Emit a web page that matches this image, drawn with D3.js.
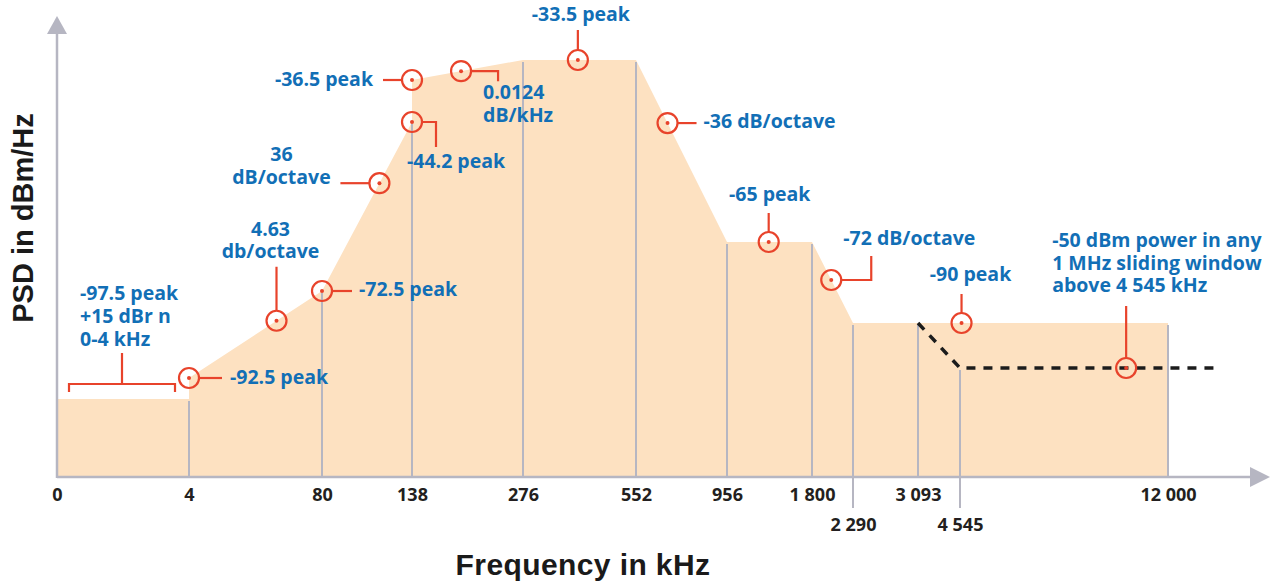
<!DOCTYPE html>
<html>
<head>
<meta charset="utf-8">
<script src="https://cdn.jsdelivr.net/npm/d3@7"></script>
<style>
  html, body { margin: 0; padding: 0; background: #fff; }
  svg { display: block; }
  .callout text { font-family: "Open Sans", sans-serif; font-weight: 700; font-size: 19.5px; fill: #126fb6; }
  .ticks text { font-family: "Open Sans", sans-serif; font-weight: 700; font-size: 18px; fill: #231f20; }
  .title { font-family: "Liberation Sans", Arial, sans-serif; font-weight: 700; fill: #1a1a1a; }
</style>
</head>
<body>
<div id="chart"></div>
<script>
// ---- data ----
const freqTicks = [0, 4, 80, 138, 276, 552, 956, 1800, 2290, 3093, 4545, 12000];
const tickLabels = ["0", "4", "80", "138", "276", "552", "956", "1 800", "2 290", "3 093", "4 545", "12 000"];
const lowRowTicks = [2290, 4545];

// PSD mask outline, dBm/Hz
const maskFreq = [0, 4, 4, 80, 138, 138, 276, 552, 956, 1800, 2290, 12000];
const maskPsd = [-97.5, -97.5, -92.5, -72.5, -44.2, -36.5, -33.5, -33.5, -65, -65, -90, -90];

// grey dividers and the level they start from
const gridFreq = [4, 80, 138, 276, 552, 956, 1800, 2290, 3093, 4545, 12000];
const gridTop = [-97.5, -72.5, -44.2, -33.5, -33.5, -65, -65, -90, -90, -92, -90];

// -50 dBm / MHz limit (drawn schematically)
const limitFreq = [3093, 4545, 13400];
const limitPsd = [-90, -92, -92];

// bracket over 0-4 kHz
const bracketFreq = [0, 4];
const bracketPsd = -97.5;
const bracketText = ["-97.5 peak", "+15 dBr n", "0-4 kHz"];

const calloutText = [
  ["-92.5 peak"],
  ["4.63", "db/octave"],
  ["-72.5 peak"],
  ["36", "dB/octave"],
  ["-44.2 peak"],
  ["-36.5 peak"],
  ["0.0124", "dB/kHz"],
  ["-33.5 peak"],
  ["-36 dB/octave"],
  ["-65 peak"],
  ["-72 dB/octave"],
  ["-90 peak"],
  ["-50 dBm power in any", "1 MHz sliding window", "above 4 545 kHz"]
];
const calloutFreq = [4, 54, 80, 117, 138, 138, 199, 410, 692, 1370, 2030, 4600, 10500];
// null = sits on the mask outline, "limit" = sits on the limit line
const calloutPsd = [-92.5, null, -72.5, null, -44.2, -36.5, null, null, null, null, null, -90, "limit"];

// ---- layout ----
const width = 1285, height = 583;
const baseY = 477, topY = 16;
const axisX0 = 57, axisX1 = 1270;
// schematic (non-uniform) frequency axis
const xDomain = freqTicks.concat([15000]);
const xRange = [57, 189, 322, 412, 523, 636, 727, 812, 853, 918, 960, 1168, 1270];
// schematic level axis
const yDomain = [-110, -97.5, -92.5, -92, -90, -72.5, -65, -44.2, -36.5, -33.5, -20];
const yRange = [477, 399, 378, 368, 323, 291, 242, 122, 80, 60, 16];

// leader polylines (offsets from the circle centre) and text placement
const calloutLayout = [
  { leader: [[10, 0], [33, 0]], dx: 41, dy: [6], anchor: "start" },
  { leader: [[0, -10], [0, -54]], dx: -6, dy: [-85, -63], anchor: "middle" },
  { leader: [[10, 0], [30, 0]], dx: 37, dy: [5], anchor: "start" },
  { leader: [[-10, 0], [-39, 0]], dx: -98, dy: [-22, 1], anchor: "middle" },
  { leader: [[10, 0], [24, 0], [24, 25]], dx: -5, dy: [46], anchor: "start" },
  { leader: [[-10, 0], [-29, 0]], dx: -39, dy: [6], anchor: "end" },
  { leader: [[10, 0], [37, 0], [37, 10]], dx: 22, dy: [28, 51], anchor: "start" },
  { leader: [[0, -10], [0, -30]], dx: 3, dy: [-39], anchor: "middle" },
  { leader: [[10, 0], [29, 0]], dx: 36, dy: [5], anchor: "start" },
  { leader: [[0, -10], [0, -29]], dx: 1, dy: [-41], anchor: "middle" },
  { leader: [[10, 0], [40, 0], [40, -24]], dx: 12, dy: [-35], anchor: "start" },
  { leader: [[0, -10], [0, -29]], dx: 9, dy: [-42], anchor: "middle" },
  { leader: [[0, -10], [0, -62]], dx: -74, dy: [-121, -98, -76], anchor: "start" }
];

const red = "#e8432b", grey = "#b6b6c2", fill = "#fde1c1";

const x = d3.scaleLinear().domain(xDomain).range(xRange);
const y = d3.scaleLinear().domain(yDomain).range(yRange);

const svg = d3.select("#chart").append("svg")
  .attr("width", width)
  .attr("height", height);

// mask fill
const mask = maskFreq.map((f, i) => ({ f, v: maskPsd[i] }));
svg.append("path")
  .datum(mask)
  .attr("fill", fill)
  .attr("d", d3.area().x(d => x(d.f)).y0(baseY).y1(d => y(d.v)));

// dividers
svg.append("g").selectAll("line")
  .data(gridFreq)
  .join("line")
  .attr("x1", d => x(d)).attr("x2", d => x(d))
  .attr("y1", (d, i) => y(gridTop[i]) + 2)
  .attr("y2", d => lowRowTicks.includes(d) ? baseY + 31 : baseY)
  .attr("stroke", grey)
  .attr("stroke-width", 2);

// axes with arrow heads
svg.append("line")
  .attr("x1", axisX0).attr("x2", axisX1 - 18)
  .attr("y1", baseY).attr("y2", baseY)
  .attr("stroke", grey).attr("stroke-width", 2.5);
svg.append("path")
  .attr("d", `M${axisX1},${baseY} L${axisX1 - 20},${baseY - 10} L${axisX1 - 20},${baseY + 10} Z`)
  .attr("fill", grey);
svg.append("line")
  .attr("x1", axisX0).attr("x2", axisX0)
  .attr("y1", baseY + 1).attr("y2", topY + 16)
  .attr("stroke", grey).attr("stroke-width", 2.5);
svg.append("path")
  .attr("d", `M${axisX0},${topY} L${axisX0 - 10},${topY + 18} L${axisX0 + 10},${topY + 18} Z`)
  .attr("fill", grey);

// tick labels
const xAxis = d3.axisBottom(x)
  .tickValues(freqTicks)
  .tickSize(0)
  .tickFormat((d, i) => tickLabels[i]);
const gx = svg.append("g")
  .attr("class", "ticks")
  .attr("transform", `translate(0,${baseY})`)
  .call(xAxis);
gx.select(".domain").remove();
gx.selectAll("text")
  .attr("dy", null)
  .attr("y", d => lowRowTicks.includes(d) ? 54 : 24)
  .attr("font-family", null)
  .attr("font-size", null)
  .attr("fill", null);

// limit line
const limit = limitFreq.map((f, i) => ({ f, v: limitPsd[i] }));
svg.append("path")
  .datum(limit)
  .attr("fill", "none")
  .attr("stroke", "#1c1c1c")
  .attr("stroke-width", 3.5)
  .attr("stroke-dasharray", "9,8")
  .attr("d", d3.line().x(d => x(d.f)).y(d => y(d.v)));

// helpers
const maskPts = mask.map(d => [x(d.f), y(d.v)]);
const limitPts = limit.map(d => [x(d.f), y(d.v)]);
function yOn(pts, px) {
  for (let i = 0; i < pts.length - 1; i++) {
    const [x0, y0] = pts[i], [x1, y1] = pts[i + 1];
    if (px >= x0 && px <= x1 && x1 > x0) return y0 + (y1 - y0) * (px - x0) / (x1 - x0);
  }
  return pts[pts.length - 1][1];
}

// bracket callout
const bx0 = x(bracketFreq[0]) + 12, bx1 = x(bracketFreq[1]) - 14;
const by = y(bracketPsd) - 15;
const bm = (bx0 + bx1) / 2;
const br = svg.append("g").attr("class", "callout");
br.append("path")
  .attr("d", `M${bx0},${by + 8} V${by} H${bx1} V${by + 8} M${bm},${by} V${by - 31}`)
  .attr("fill", "none").attr("stroke", red).attr("stroke-width", 2.2);
br.append("text")
  .selectAll("tspan")
  .data(bracketText)
  .join("tspan")
  .attr("x", x(bracketFreq[0]) + 23)
  .attr("y", (d, i) => by - 84 + i * 23)
  .text(d => d);

// point callouts
calloutText.forEach((lines, i) => {
  const cx = x(calloutFreq[i]);
  const lv = calloutPsd[i];
  const cy = lv === null ? yOn(maskPts, cx) : lv === "limit" ? yOn(limitPts, cx) : y(lv);
  const L = calloutLayout[i];
  const g = svg.append("g").attr("class", "callout").attr("transform", `translate(${cx},${cy})`);
  g.append("path")
    .attr("d", d3.line()(L.leader))
    .attr("fill", "none").attr("stroke", red).attr("stroke-width", 2.2);
  g.append("circle").attr("r", 10).attr("fill", "none").attr("stroke", red).attr("stroke-width", 2.2);
  g.append("circle").attr("r", 2).attr("fill", red);
  g.append("text")
    .attr("text-anchor", L.anchor)
    .selectAll("tspan")
    .data(lines)
    .join("tspan")
    .attr("x", L.dx)
    .attr("y", (d, j) => L.dy[j])
    .text(d => d);
});

// titles
svg.append("text")
  .attr("class", "title")
  .attr("x", 583).attr("y", 575)
  .attr("text-anchor", "middle")
  .style("font-size", "30px")
  .style("letter-spacing", "0.4px")
  .text("Frequency in kHz");
svg.append("text")
  .attr("class", "title")
  .attr("transform", "translate(33,218) rotate(-90)")
  .attr("text-anchor", "middle")
  .style("font-size", "29px")
  .text("PSD in dBm/Hz");
</script>
</body>
</html>
